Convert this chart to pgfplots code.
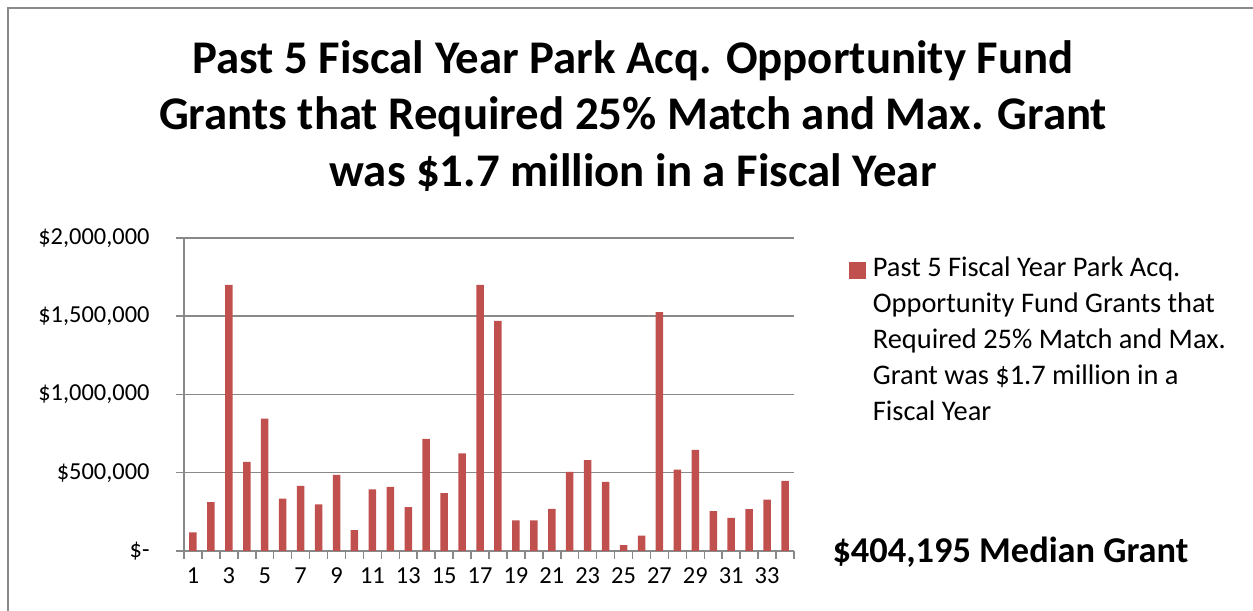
\documentclass[border=0pt]{standalone}
\usepackage{pgfplots}
\pgfplotsset{compat=1.18}
\usepackage{fontspec}
\setmainfont{Carlito}
\definecolor{barred}{HTML}{C0504D}
\definecolor{gridgray}{HTML}{898989}
\pgfplotstableread{
x y
1 119000
2 313000
3 1700000
4 569000
5 846000
6 335000
7 416000
8 298000
9 486000
10 134000
11 394000
12 409000
13 281000
14 716000
15 369000
16 623000
17 1700000
18 1471000
19 196000
20 196000
21 269000
22 505000
23 580000
24 441000
25 38000
26 98000
27 1527000
28 520000
29 646000
30 254000
31 211000
32 267000
33 328000
34 448000
}\grants
\begin{document}
\begin{tikzpicture}[x=1bp,y=1bp]
\useasboundingbox (0,0) rectangle (1253,611);
\draw[gridgray,line width=1.5bp] (8,-20) -- (8,603) -- (1280,603);
\node[anchor=base,font=\fontsize{47}{52}\selectfont\bfseries] at (633,611-74) {Past 5 Fiscal Year Park Acq. Opportunity Fund};
\node[anchor=base,font=\fontsize{47}{52}\selectfont\bfseries] at (633,611-130) {Grants that Required 25\% Match and Max. Grant};
\node[anchor=base,font=\fontsize{47}{52}\selectfont\bfseries] at (633,611-187) {was \$1.7 million in a Fiscal Year};
\begin{axis}[
  at={(184bp,60bp)}, anchor=south west,
  scale only axis, width=610bp, height=313bp,
  xmin=0.5, xmax=34.5, ymin=0, ymax=2000000,
  ybar, bar width=7.5bp, bar shift=0pt,
  axis x line*=bottom, axis y line*=left,
  axis line style={gridgray,line width=1.5bp},
  ymajorgrids, grid style={gridgray,line width=1.5bp},
  scaled y ticks=false,
  ytick={0,500000,1000000,1500000,2000000},
  yticklabels={{\$-},{\$500,000},{\$1,000,000},{\$1,500,000},{\$2,000,000}},
  xtick={1,3,...,33},
  minor xtick={0.5,1.5,...,34.5},
  tick align=outside,
  major tick length=8bp, minor tick length=8bp,
  x tick style={draw=none},
  minor x tick style={draw=gridgray,line width=1.5bp},
  y tick style={gridgray,line width=1.5bp},
  tick label style={font=\fontsize{24.5}{28}\selectfont},
  /pgf/number format/assume math mode=true,
  xticklabel style={yshift=-5bp},
  yticklabel style={xshift=-23bp},
  legend style={at={(1.09,0.956)}, anchor=north west, draw=none, fill=none,
    font=\fontsize{28.5}{36}\selectfont, inner sep=0pt, outer sep=0pt,
    nodes={inner sep=0pt}, column sep=7bp},
  legend image code/.code={\fill[barred] (0bp,-14bp) rectangle (17bp,3bp);},
  clip=false,
]
\addplot[fill=barred, draw=none] table[x=x,y=y] {\grants};
\addlegendentry{\begin{tabular}[t]{@{}l@{}}Past 5 Fiscal Year Park Acq.\\Opportunity Fund Grants that\\Required 25\% Match and Max.\\Grant was \$1.7 million in a\\Fiscal Year\end{tabular}}
\end{axis}
\node[anchor=base west,font=\fontsize{36.5}{42}\selectfont\bfseries] at (829,611-563) {\$404,195 Median Grant};
\end{tikzpicture}
\end{document}
